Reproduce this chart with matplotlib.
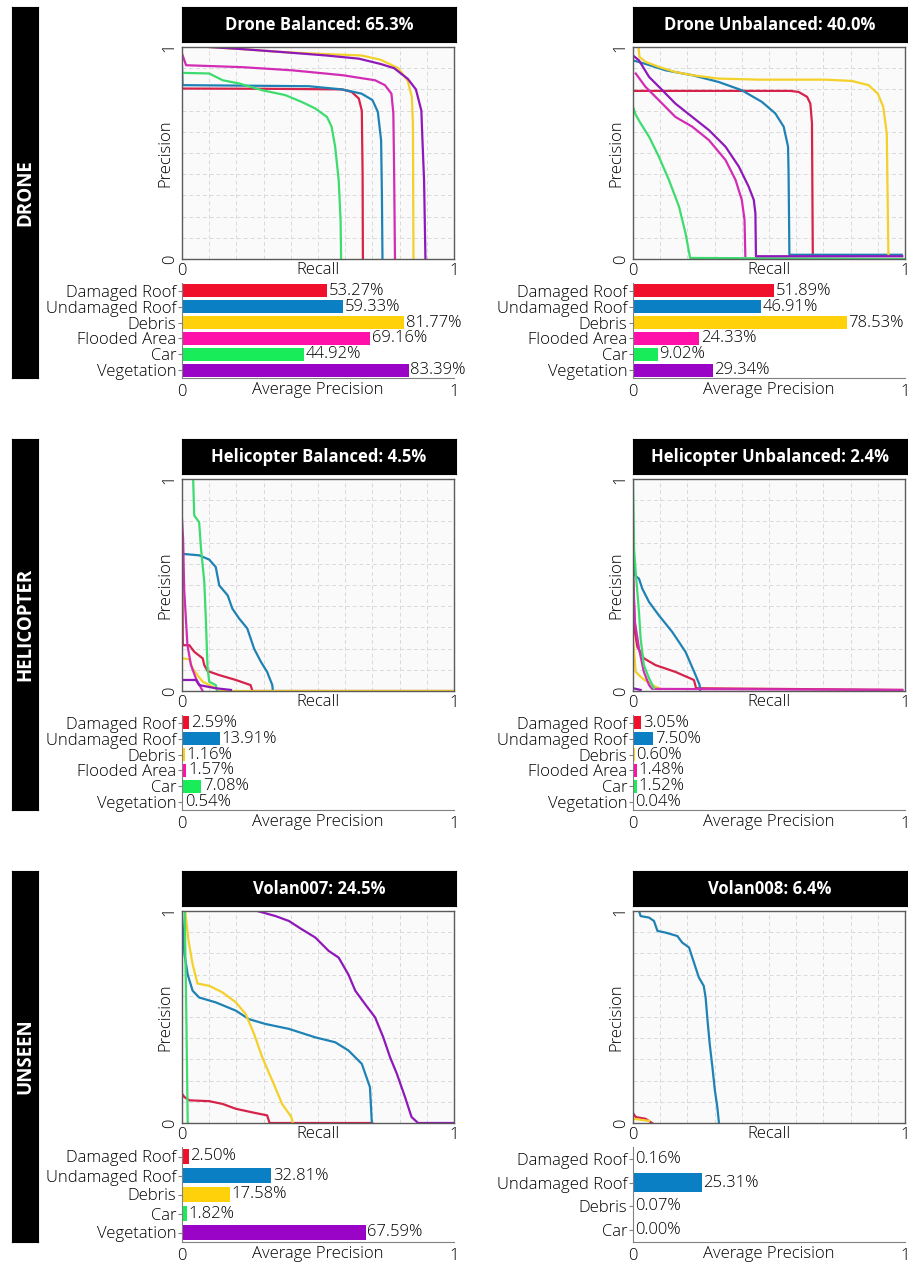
import numpy as np
import matplotlib
matplotlib.use("Agg")
import matplotlib.pyplot as plt

plt.rcParams['font.family'] = ['Open Sans', 'DejaVu Sans']
plt.rcParams['font.weight'] = 'light'

# class names and colours
classes = ["Damaged Roof", "Undamaged Roof", "Debris", "Flooded Area", "Car", "Vegetation"]
classes_v7 = ["Damaged Roof", "Undamaged Roof", "Debris", "Car", "Vegetation"]
classes_v8 = ["Damaged Roof", "Undamaged Roof", "Debris", "Car"]

bar_colors = {"Damaged Roof": "#f0102c", "Undamaged Roof": "#0a7fc4", "Debris": "#ffd10a",
              "Flooded Area": "#ff10a8", "Car": "#18ec58", "Vegetation": "#9a04c6"}
line_colors = {"Damaged Roof": "#d5234a", "Undamaged Roof": "#1f82b4", "Debris": "#f4d02a",
               "Flooded Area": "#d22cb4", "Car": "#3ddc6e", "Vegetation": "#8e18b8"}

# average precision (%)
ap_drone_bal = [53.27, 59.33, 81.77, 69.16, 44.92, 83.39]
ap_drone_unbal = [51.89, 46.91, 78.53, 24.33, 9.02, 29.34]
ap_heli_bal = [2.59, 13.91, 1.16, 1.57, 7.08, 0.54]
ap_heli_unbal = [3.05, 7.50, 0.60, 1.48, 1.52, 0.04]
ap_volan007 = [2.50, 32.81, 17.58, 1.82, 67.59]
ap_volan008 = [0.16, 25.31, 0.07, 0.00]

titles = ["Drone Balanced: 65.3%", "Drone Unbalanced: 40.0%",
          "Helicopter Balanced: 4.5%", "Helicopter Unbalanced: 2.4%",
          "Volan007: 24.5%", "Volan008: 6.4%"]
row_names = ["DRONE", "HELICOPTER", "UNSEEN"]

# precision-recall curves, (recall, precision)
db_damaged = [(0, .804), (.30, .803), (.588, .80), (.624, .788), (.65, .757), (.661, .70), (.664, .40), (.665, 0)]
db_undamaged = [(0, .91), (.002, .82), (.2, .818), (.466, .815), (.588, .80), (.66, .78), (.70, .75),
                (.72, .694), (.732, .56), (.735, .3), (.737, 0)]
db_debris = [(.10, 1.0), (.22, .99), (.37, .976), (.50, .968), (.66, .96), (.73, .94), (.795, .90),
             (.83, .84), (.845, .765), (.849, .64), (.851, 0)]
db_flooded = [(0, .969), (.015, .914), (.22, .905), (.405, .89), (.59, .867), (.71, .843), (.746, .82),
              (.77, .78), (.777, .687), (.78, .40), (.783, 0)]
db_car = [(0, .878), (.10, .875), (.15, .843), (.21, .828), (.295, .796), (.38, .773), (.44, .741),
          (.49, .71), (.533, .67), (.55, .624), (.563, .53), (.576, .373), (.583, .185), (.585, 0)]
db_veg = [(.10, 1.0), (.22, .99), (.37, .976), (.53, .96), (.65, .945), (.73, .92), (.78, .90),
          (.83, .85), (.86, .80), (.88, .70), (.884, .56), (.89, .37), (.895, 0)]

du_damaged = [(0, .793), (.578, .793), (.609, .788), (.64, .765), (.652, .733), (.658, .64), (.661, .02)]
du_undamaged = [(0, .937), (.046, .92), (.12, .89), (.218, .867), (.315, .835), (.40, .796), (.474, .741),
                (.523, .687), (.554, .624), (.57, .53), (.572, .404), (.575, .02), (.988, .02)]
du_debris = [(.02, 1.0), (.024, .953), (.046, .93), (.095, .906), (.156, .882), (.218, .867), (.315, .851),
             (.462, .846), (.706, .846), (.804, .84), (.866, .82), (.90, .78), (.92, .718), (.933, .592),
             (.935, .40), (.939, .02)]
du_flooded = [(.01, .875), (.046, .812), (.095, .749), (.156, .67), (.218, .624), (.279, .561), (.34, .467),
              (.377, .373), (.40, .279), (.41, .185), (.413, .013)]
du_car = [(0, .718), (.01, .68), (.028, .64), (.059, .577), (.095, .483), (.132, .373), (.169, .248),
          (.193, .122), (.21, .005), (1.0, 0)]
du_veg = [(0, .96), (.022, .937), (.059, .859), (.108, .796), (.156, .733), (.218, .67), (.279, .608),
          (.34, .53), (.389, .436), (.425, .342), (.444, .279), (.45, .216), (.452, .013), (.99, .013)]

hb_damaged = [(0, .72), (.003, .216), (.027, .216), (.045, .185), (.076, .154), (.082, .122), (.094, .094),
              (.137, .075), (.198, .052), (.252, .028), (.259, 0), (1.0, 0)]
hb_undamaged = [(0, .647), (.063, .64), (.10, .62), (.124, .585), (.137, .498), (.168, .451), (.185, .389),
                (.21, .342), (.24, .295), (.265, .20), (.29, .138), (.313, .09), (.332, .028), (.334, 0)]
hb_debris = [(0, .154), (.027, .15), (.039, .107), (.057, .075), (.076, .044), (.124, .013), (.13, 0), (1.0, 0)]
hb_flooded = [(0, .81), (.004, .718), (.008, .48), (.015, .326), (.02, .216), (.033, .122), (.051, .06), (.076, 0)]
hb_car = [(.041, 1.0), (.045, .828), (.063, .796), (.07, .67), (.082, .514), (.088, .326), (.094, .107),
          (.10, .044), (.124, .028), (.13, 0)]
hb_veg = [(0, .052), (.051, .052), (.063, .028), (.124, .013), (.18, .005)]

hu_damaged = [(0, .561), (.007, .279), (.016, .208), (.04, .154), (.083, .122), (.156, .09), (.224, .052),
              (.232, .013), (.99, .005)]
hu_undamaged = [(0, .687), (.007, .545), (.022, .53), (.034, .483), (.059, .42), (.095, .357), (.144, .279),
                (.193, .185), (.23, .075), (.245, .028), (.247, 0)]
hu_debris = [(0, .248), (.01, .09), (.034, .06), (.07, .028), (.10, .01)]
hu_flooded = [(0, .56), (.007, .326), (.022, .20), (.04, .09), (.059, .028), (.07, .01), (.99, .005)]
hu_car = [(0, 1.0), (.004, .67), (.01, .56), (.022, .373), (.028, .248), (.04, .122), (.059, .06), (.077, .013)]
hu_veg = [(0, .013), (.028, .005)]

v7_damaged = [(0, .138), (.009, .122), (.027, .107), (.10, .103), (.149, .09), (.198, .067), (.27, .047),
              (.313, .036), (.322, 0), (.70, 0)]
v7_undamaged = [(0, .984), (.009, .796), (.021, .70), (.039, .624), (.063, .592), (.124, .569), (.198, .53),
                (.246, .49), (.307, .467), (.393, .444), (.49, .404), (.563, .381), (.612, .342), (.661, .279),
                (.691, .169), (.698, 0)]
v7_debris = [(.012, 1.0), (.024, .859), (.039, .749), (.057, .658), (.10, .647), (.149, .616), (.198, .569),
             (.234, .514), (.265, .42), (.295, .31), (.332, .20), (.368, .09), (.402, .028), (.407, 0)]
v7_car = [(.01, 1.0), (.016, .5), (.021, 0)]
v7_veg = [(.277, 1.0), (.344, .976), (.393, .953), (.44, .914), (.49, .875), (.539, .812), (.576, .78),
          (.612, .70), (.637, .624), (.673, .561), (.71, .498), (.74, .404), (.765, .31), (.79, .232),
          (.82, .122), (.844, .028), (.868, 0), (1.0, 0)]

v8_damaged = [(0, .047), (.01, .028), (.046, .02), (.07, 0)]
v8_undamaged = [(.022, 1.0), (.028, .976), (.059, .969), (.077, .953), (.09, .906), (.12, .898), (.163, .882),
                (.181, .851), (.206, .828), (.224, .757), (.242, .687), (.26, .647), (.267, .592), (.273, .498),
                (.282, .373), (.292, .263), (.301, .154), (.31, .075), (.316, 0)]
v8_debris = [(0, .02), (.059, .01)]

panels = [
    (classes, ap_drone_bal, [db_damaged, db_undamaged, db_debris, db_flooded, db_car, db_veg]),
    (classes, ap_drone_unbal, [du_damaged, du_undamaged, du_debris, du_flooded, du_car, du_veg]),
    (classes, ap_heli_bal, [hb_damaged, hb_undamaged, hb_debris, hb_flooded, hb_car, hb_veg]),
    (classes, ap_heli_unbal, [hu_damaged, hu_undamaged, hu_debris, hu_flooded, hu_car, hu_veg]),
    (classes_v7, ap_volan007, [v7_damaged, v7_undamaged, v7_debris, v7_car, v7_veg]),
    (classes_v8, ap_volan008, [v8_damaged, v8_undamaged, v8_debris, []]),
]

W, H = 908, 1262
fig = plt.figure(figsize=(W / 100, H / 100), dpi=100)


def px_axes(x0, y0, x1, y1):
    return fig.add_axes([x0 / W, 1 - y1 / H, (x1 - x0) / W, (y1 - y0) / H])


FS = 12
col_x = [(182, 454), (633, 905)]

for r in range(3):
    dy = 432 * r
    side = px_axes(12, 7 + dy, 38, 378 + dy)
    side.set_facecolor("black")
    side.set_xticks([])
    side.set_yticks([])
    side.text(0.5, 0.5, row_names[r], rotation=90, color="white", fontsize=13.5, fontweight="bold",
              ha="center", va="center", transform=side.transAxes)

    for c in range(2):
        k = 2 * r + c
        names, ap, curves = panels[k]
        x0, x1 = col_x[c]

        # title box
        tb = px_axes(x0, 7 + dy, x1 + 2, 42 + dy)
        tb.set_facecolor("black")
        tb.set_xticks([])
        tb.set_yticks([])
        tb.text(0.5, 0.5, titles[k], color="white", fontsize=12, fontweight="bold",
                ha="center", va="center", transform=tb.transAxes)

        # PR curves
        ax = px_axes(x0, 47 + dy, x1, 259 + dy)
        ax.set_facecolor("#fafafa")
        ax.set_xlim(0, 1)
        ax.set_ylim(0, 1)
        ax.set_xticks(np.arange(0.1, 1.0, 0.1), minor=True)
        ax.set_yticks(np.arange(0.1, 1.0, 0.1), minor=True)
        ax.set_xticks([0, 1])
        ax.set_yticks([0, 1])
        ax.set_xticklabels(["0", "1"], fontsize=FS)
        ax.set_yticklabels(["0", "1"], fontsize=FS, rotation=90, va="center")
        ax.tick_params(which="both", length=0, pad=3)
        ax.grid(which="minor", color="#d9d9d9", linestyle=(0, (4, 3)), linewidth=0.7)
        for s in ax.spines.values():
            s.set_color("#5a5a5a")
            s.set_linewidth(1.0)
        for name, pts in zip(names, curves):
            if len(pts) == 0:
                continue
            rr = [p[0] for p in pts]
            pp = [p[1] for p in pts]
            ax.plot(rr, pp, color=line_colors[name], linewidth=1.6, clip_on=True)
        ax.text(0.5, -0.015, "Recall", transform=ax.transAxes, ha="center", va="top", fontsize=FS)
        ax.text(-0.033, 0.5, "Precision", transform=ax.transAxes, ha="right", va="center",
                rotation=90, fontsize=FS)

        # AP bars
        bx = px_axes(x0, 283 + dy, x1, 378 + dy)
        n = len(names)
        ypos = np.arange(n)
        bx.barh(ypos, [v / 100 for v in ap], height=0.82,
                color=[bar_colors[nm] for nm in names])
        bx.set_xlim(0, 1)
        bx.set_ylim(n - 0.5, -0.5)
        bx.set_yticks(ypos)
        bx.set_yticklabels(names, fontsize=FS)
        bx.set_xticks([0, 1])
        bx.set_xticklabels(["0", "1"], fontsize=FS)
        bx.tick_params(axis="y", length=3, color="#808080", pad=1)
        bx.tick_params(axis="x", length=0, pad=4)
        bx.spines["top"].set_visible(False)
        bx.spines["right"].set_visible(False)
        bx.spines["left"].set_color("#808080")
        bx.spines["bottom"].set_color("#808080")
        bx.set_facecolor("none")
        for i, v in enumerate(ap):
            bx.text(v / 100 + 0.006, i, f"{v:.2f}%", va="center", ha="left", fontsize=FS)
        bx.text(0.5, -0.04, "Average Precision", transform=bx.transAxes, ha="center", va="top", fontsize=FS)

fig.savefig("out.png", dpi=100, facecolor="white")
